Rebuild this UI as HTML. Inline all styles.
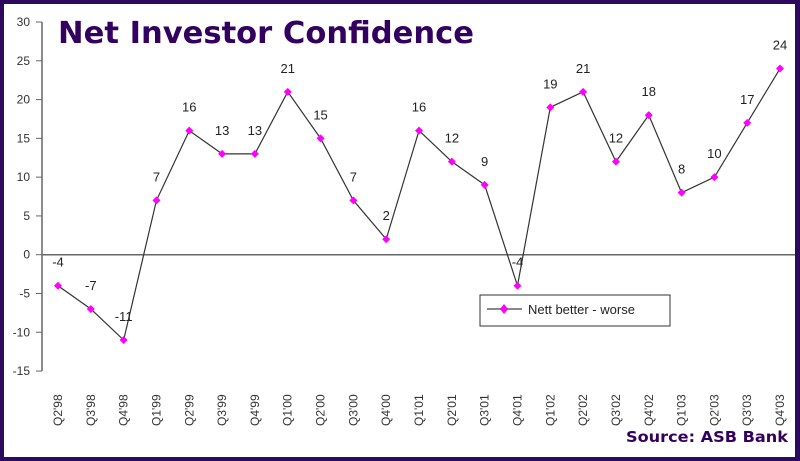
<!DOCTYPE html>
<html><head><style>
body{margin:0;background:#fff}
svg{display:block}
text{font-family:"Liberation Sans",sans-serif}
</style></head><body>
<svg width="800" height="461" viewBox="0 0 800 461">
<rect x="0" y="0" width="800" height="461" fill="#2e0a5e"/>
<rect x="4" y="4" width="791" height="453" fill="#fff"/>
<text x="58" y="43" font-size="30" font-weight="bold" fill="#33005f" textLength="416" lengthAdjust="spacingAndGlyphs" style="font-family:'DejaVu Sans',sans-serif">Net Investor Confidence</text>
<g stroke="#666" stroke-width="1.5" fill="none">
<line x1="42" y1="22" x2="42" y2="371"/>
<line x1="42" y1="254.7" x2="795" y2="254.7"/>
</g>
<g id="yt" font-size="12" fill="#333" text-anchor="end"></g>
<g id="xt" font-size="12" fill="#333"></g>
<polyline id="ln" fill="none" stroke="#333" stroke-width="1.2"/>
<g id="pts" fill="#ff00ff"></g>
<g id="lb" font-size="13" fill="#222" text-anchor="middle"></g>
<rect x="480" y="295" width="190" height="31" fill="#fff" stroke="#333" stroke-width="1"/>
<line x1="487" y1="309" x2="522" y2="309" stroke="#888" stroke-width="2"/>
<path d="M504 304 L508 309 L504 314 L500 309Z" fill="#ff00ff"/>
<text x="528" y="314" font-size="13" fill="#222">Nett better - worse</text>
<text x="788" y="442" font-size="15" font-weight="bold" fill="#33005f" text-anchor="end" textLength="162" lengthAdjust="spacingAndGlyphs" style="font-family:'DejaVu Sans',sans-serif">Source: ASB Bank</text>
</svg>
<script>
const vals=[-4,-7,-11,7,16,13,13,21,15,7,2,16,12,9,-4,19,21,12,18,8,10,17,24];
const labs=["Q2'98","Q3'98","Q4'98","Q1'99","Q2'99","Q3'99","Q4'99","Q1'00","Q2'00","Q3'00","Q4'00","Q1'01","Q2'01","Q3'01","Q4'01","Q1'02","Q2'02","Q3'02","Q4'02","Q1'03","Q2'03","Q3'03","Q4'03"];
const ns="http://www.w3.org/2000/svg";
const Y=v=>254.7-v*7.756, X=i=>58+i*32.82;
function el(t,a,p,txt){const e=document.createElementNS(ns,t);for(const k in a)e.setAttribute(k,a[k]);if(txt!==undefined)e.textContent=txt;document.getElementById(p).appendChild(e);}
for(let v=-15;v<=30;v+=5){el("text",{x:30,y:Y(v)+4},"yt",String(v));el("line",{x1:36,y1:Y(v),x2:42,y2:Y(v),stroke:"#666"},"yt");}
let pts=[];
vals.forEach((v,i)=>{const x=X(i),y=Y(v);pts.push(x+","+y);
el("path",{d:`M${x} ${y-4}L${x+4} ${y}L${x} ${y+4}L${x-4} ${y}Z`},"pts");
el("text",{x:x,y:y-19},"lb",String(v));
el("text",{x:0,y:0,transform:`translate(${x+4},426) rotate(-90)`},"xt",labs[i]);});
document.getElementById("ln").setAttribute("points",pts.join(" "));
</script>
</body></html>
